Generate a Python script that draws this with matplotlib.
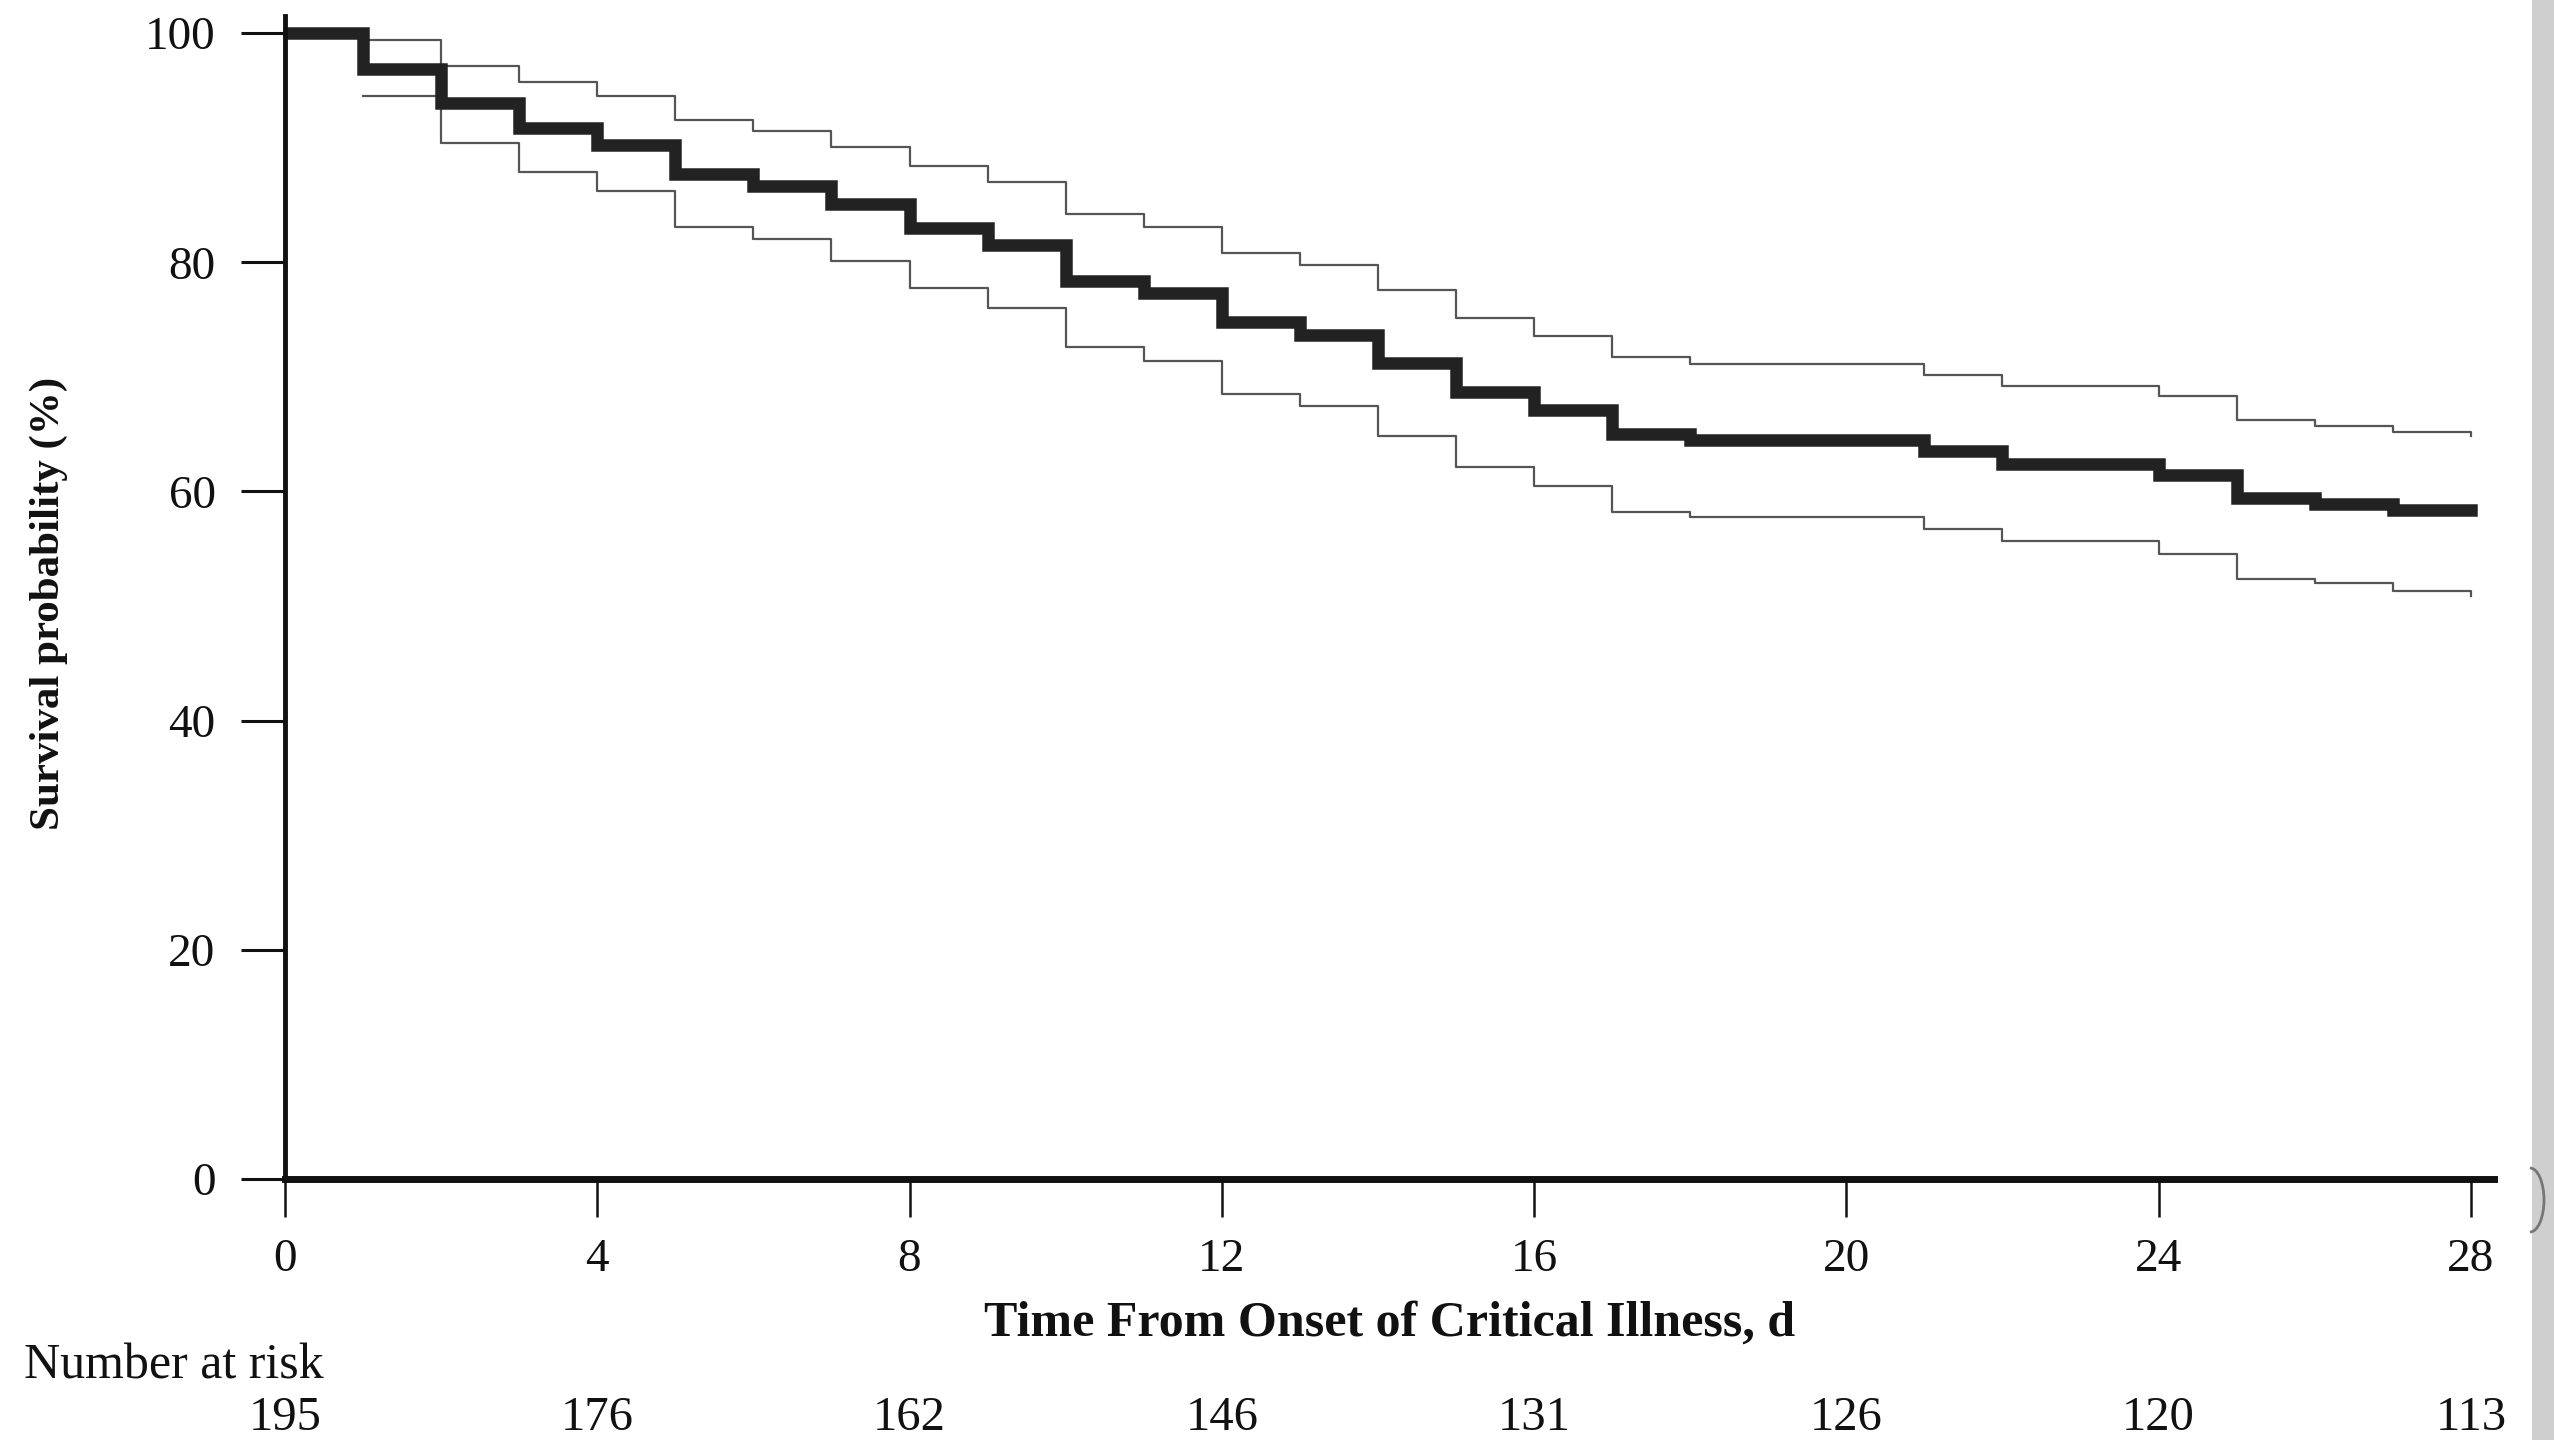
import matplotlib
matplotlib.use("Agg")
import matplotlib.pyplot as plt
from matplotlib.patches import Rectangle, Arc

plt.rcParams['font.family'] = ['Liberation Serif', 'DejaVu Serif']

# days 0..28, survival (%) for each step
days = list(range(0, 29))
survival = [100, 96.9, 93.9, 91.7, 90.2, 87.7, 86.7, 85.1, 83.0, 81.5, 78.4, 77.3,
            74.8, 73.7, 71.2, 68.7, 67.1, 65.0, 64.5, 64.5, 64.5, 63.5, 62.4, 62.4,
            61.4, 59.4, 58.9, 58.4, 58.4]

# confidence bounds start at day 1
ci_days = list(range(1, 29))
upper = [99.4, 97.1, 95.7, 94.5, 92.4, 91.5, 90.1, 88.4, 87.0, 84.2, 83.1, 80.8,
         79.8, 77.6, 75.1, 73.6, 71.7, 71.1, 71.1, 71.1, 70.2, 69.2, 69.2, 68.3,
         66.2, 65.7, 65.2, 64.8]
lower = [94.5, 90.4, 87.9, 86.2, 83.1, 82.0, 80.1, 77.8, 76.0, 72.6, 71.4, 68.5,
         67.5, 64.8, 62.1, 60.5, 58.2, 57.8, 57.8, 57.8, 56.7, 55.7, 55.7, 54.5,
         52.4, 52.0, 51.3, 50.9]

xticks = [0, 4, 8, 12, 16, 20, 24, 28]
yticks = [0, 20, 40, 60, 80, 100]
at_risk = [195, 176, 162, 146, 131, 126, 120, 113]

fig = plt.figure(figsize=(25.54, 14.40), dpi=100)
ax = fig.add_axes([0.1116, 0.1813, 0.865, 0.8076])

ax.step(ci_days, upper, where='post', color='#555555', lw=1.6)
ax.step(ci_days, lower, where='post', color='#555555', lw=1.6)
ax.step(days, survival, where='post', color='#222222', lw=9,
        solid_joinstyle='miter', solid_capstyle='projecting')

ax.set_xlim(0, 28.3)
ax.set_ylim(0, 101.5)
ax.set_xticks(xticks)
ax.set_yticks(yticks)
ax.set_xticklabels([str(t) for t in xticks], fontsize=34)
ax.set_yticklabels([str(t) for t in yticks], fontsize=34)

for s in ['top', 'right']:
    ax.spines[s].set_visible(False)
ax.spines['left'].set_linewidth(3.5)
ax.spines['bottom'].set_linewidth(5)
ax.spines['left'].set_color('#111111')
ax.spines['bottom'].set_color('#111111')
ax.tick_params(axis='x', length=27, width=1.8, pad=16, colors='#111111')
ax.tick_params(axis='y', length=32, width=2.2, pad=18, colors='#111111')

ax.text(0.5, -0.124, 'Time From Onset of Critical Illness, d', transform=ax.transAxes,
        ha='center', va='center', fontsize=36, fontweight='bold', color='#111111')
ax.text(-0.1068, 0.495, 'Survival probability (%)', transform=ax.transAxes,
        rotation=90, ha='center', va='center', fontsize=31, fontweight='bold',
        color='#111111')

# number at risk table
fig.text(24 / 2554, 1 - 1366 / 1440, 'Number at risk', ha='left', va='center',
         fontsize=36, color='#111111')
tr = ax.get_xaxis_transform()
for d, n in zip(xticks, at_risk):
    ax.text(d, -(1418 - 1179) / 1163, str(n), transform=tr, ha='center', va='center',
            fontsize=35, color='#111111', clip_on=False)

# slide edge on the right
fig.patches.append(Rectangle((2532 / 2554, 0), 22 / 2554, 1, transform=fig.transFigure,
                             facecolor='#cfcfcf', edgecolor='none', zorder=0))
fig.patches.append(Arc((2530 / 2554, 1 - 1200 / 1440), 28 / 2554, 64 / 1440,
                       theta1=-90, theta2=90, transform=fig.transFigure,
                       color='#777777', lw=2))

fig.savefig('out.png', dpi=100, facecolor='white')
